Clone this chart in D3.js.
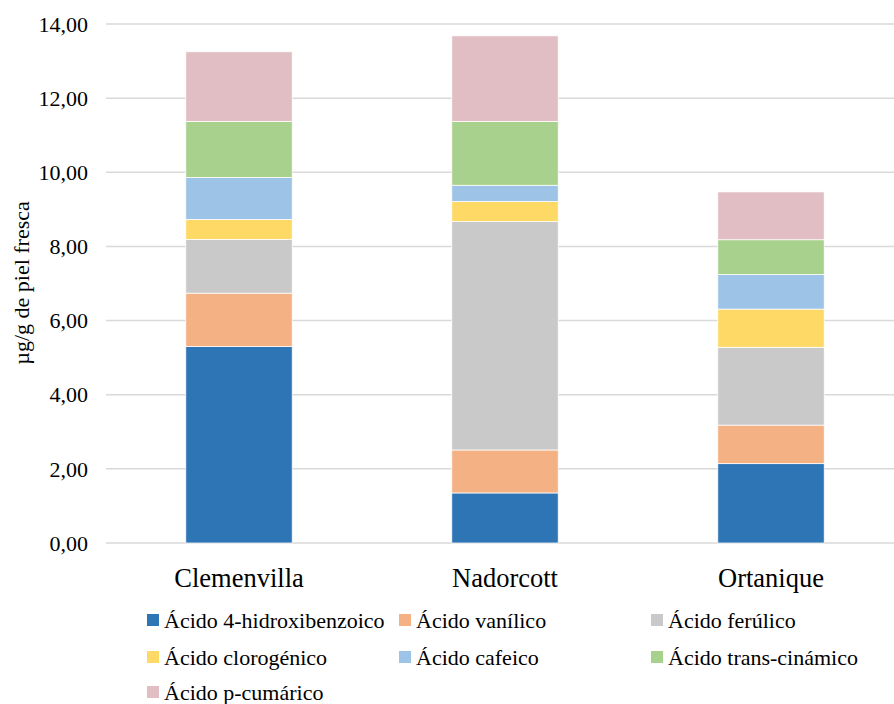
<!DOCTYPE html>
<html><head><meta charset="utf-8">
<script src="https://cdn.jsdelivr.net/npm/d3@7"></script>
<style>body{margin:0;background:#fff}svg{display:block}text{font-family:"Liberation Serif","Times New Roman",serif;fill:#000}</style>
</head><body>
<svg id="c" width="894" height="704"></svg>
<script>
const categories = ["Clemenvilla", "Nadorcott", "Ortanique"];
const seriesNames = ["Ácido 4-hidroxibenzoico", "Ácido vanílico", "Ácido ferúlico", "Ácido clorogénico", "Ácido cafeico", "Ácido trans-cinámico", "Ácido p-cumárico"];
const hidroxibenzoico = [5.30, 1.35, 2.14];
const vanilico = [1.44, 1.16, 1.04];
const ferulico = [1.45, 6.16, 2.10];
const clorogenico = [0.54, 0.54, 1.03];
const cafeico = [1.13, 0.44, 0.93];
const transcinamico = [1.51, 1.72, 0.94];
const pcumarico = [1.88, 2.31, 1.29];
const colors = ["#2E75B6", "#F4B183", "#C9C9C9", "#FFD966", "#9DC3E6", "#A9D18E", "#E0BEC3"];
const yTicks = [0, 2, 4, 6, 8, 10, 12, 14];
const yTitle = "µg/g de piel fresca";

const seriesVals = [hidroxibenzoico, vanilico, ferulico, clorogenico, cafeico, transcinamico, pcumarico];
const rows = categories.map((c, i) => {
  const o = {cat: c};
  seriesNames.forEach((s, j) => o[s] = seriesVals[j][i]);
  return o;
});
const stack = d3.stack().keys(seriesNames)(rows);

const svg = d3.select("#c");
const x = d3.scaleBand().domain(categories).range([106, 904]).paddingInner(0.6).paddingOuter(0.3);
const y = d3.scaleLinear().domain([0, 14]).range([543, 24]);

// gridlines
svg.append("g").selectAll("line").data(yTicks).join("line")
  .attr("x1", 106).attr("x2", 894)
  .attr("y1", d => y(d)).attr("y2", d => y(d))
  .attr("stroke", "#D9D9D9").attr("stroke-width", 1.5);

// y axis labels
const fmt = d => d.toFixed(2).replace(".", ",");
const yAxis = d3.axisLeft(y).tickValues(yTicks).tickFormat(fmt).tickSize(0).tickPadding(0);
const ya = svg.append("g").attr("transform", "translate(88,0)").call(yAxis);
ya.select(".domain").remove();
ya.selectAll("text").attr("font-size", 22).attr("font-family", "Liberation Serif").attr("fill", "#000").attr("dy", "0.33em");

// bars
svg.append("g").selectAll("g").data(stack).join("g")
  .attr("fill", (d, i) => colors[i])
  .selectAll("rect").data(d => d).join("rect")
  .attr("x", d => x(d.data.cat))
  .attr("width", x.bandwidth())
  .attr("y", d => y(d[1]))
  .attr("height", d => y(d[0]) - y(d[1]))
  .attr("stroke", "#fff").attr("stroke-width", 0.75);

// x axis labels
const xAxis = d3.axisBottom(x).tickSize(0).tickPadding(0);
const xa = svg.append("g").attr("transform", "translate(0,578)").call(xAxis);
xa.select(".domain").remove();
xa.selectAll("text").attr("font-size", 26.5).attr("font-family", "Liberation Serif").attr("fill", "#000").attr("dy", "0.35em");

// y title
svg.append("text").attr("transform", "translate(29,283) rotate(-90)")
  .attr("text-anchor", "middle").attr("font-size", 22).text(yTitle);

// legend
const colX = [147, 399, 651];
const rowY = [620, 657, 692];
const leg = svg.append("g").selectAll("g").data(seriesNames).join("g")
  .attr("transform", (d, i) => `translate(${colX[i % 3]},${rowY[Math.floor(i / 3)]})`);
leg.append("rect").attr("x", 0).attr("y", -6).attr("width", 12).attr("height", 12).attr("fill", (d, i) => colors[i]);
leg.append("text").attr("x", 17).attr("dy", "0.35em").attr("font-size", 22).text(d => d);
</script>
</body></html>
